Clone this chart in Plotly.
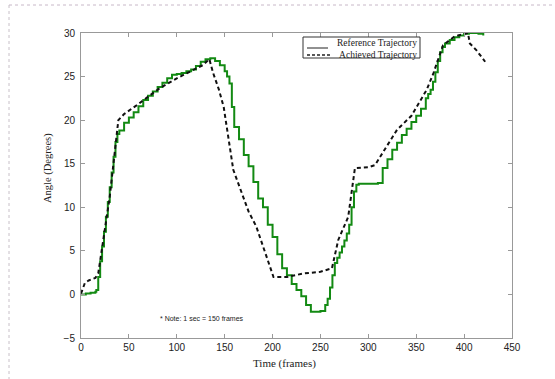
import plotly.graph_objects as go

# Reference trajectory (green, stepped)
ref_frames = [0, 5, 10, 15, 16, 18, 20, 22, 24, 26, 28, 30, 32, 34, 36, 38, 40,
              45, 50, 55, 60, 65, 70, 75, 80, 85, 90, 95, 100, 105, 110, 115,
              120, 125, 130, 135, 140, 145, 150, 152.5, 155, 157.5, 160, 165,
              170, 175, 180, 185, 190, 195, 200, 205, 210, 215, 220, 225, 230,
              235, 240, 245, 250, 255, 257.5, 260, 262.5, 265, 267.5, 270,
              272.5, 275, 277.5, 280, 282.5, 285, 287.5, 290, 295, 300, 305,
              310, 315, 320, 325, 330, 335, 340, 345, 350, 355, 360, 362.5,
              365, 367.5, 370, 372.5, 375, 377.5, 380, 385, 390, 395, 400,
              405, 410, 415, 420]
ref_angle = [0.0, 0.1, 0.2, 0.3, 0.5, 2.0, 3.8, 5.5, 7.2, 8.9, 10.6, 12.3, 14.0,
             15.8, 17.5, 18.4, 18.8,
             19.7, 20.3, 20.9, 21.6, 22.3, 22.8, 23.3, 23.8, 24.3, 24.8, 25.2,
             25.3, 25.4, 25.6, 25.8, 26.2, 26.7, 27.0, 27.1, 26.8, 26.3, 25.6,
             25.0, 24.2, 21.5, 19.2, 17.8, 16.0, 14.7, 12.9, 11.0, 10.0, 8.0,
             6.6, 4.6, 3.0, 2.2, 1.2, 0.5, -0.2, -1.2, -2.0, -2.0, -1.9, -1.2,
             -0.5, 0.8, 2.2, 3.6, 4.2, 4.8, 5.5, 6.2, 7.0, 8.0, 10.0, 11.8,
             12.6, 12.7, 12.7, 12.7, 12.7, 12.8, 14.5, 15.5, 16.6, 17.4, 18.3,
             19.0, 19.8, 20.5, 21.3, 22.5, 23.0, 23.5, 24.4, 25.5, 26.8, 27.8,
             28.4, 28.8, 29.2, 29.5, 29.7, 29.9, 30.0, 30.0, 29.9, 29.7]

# Achieved trajectory (black, dashed)
ach_frames = [0, 4, 8, 15, 18, 23, 30, 39, 45, 58, 70, 82.5, 100, 117, 127, 134,
              138, 144, 149, 159, 168, 175, 183, 190, 201, 215, 232, 250, 262,
              268.6, 279, 286, 300, 307, 319, 330, 345, 361, 368, 378, 390, 404,
              406, 413, 422]
ach_angle = [0.1, 1.3, 1.6, 1.9, 2.4, 5.9, 11.2, 20.0, 20.7, 21.7, 22.7, 23.7,
             24.8, 25.75, 26.3, 27.0, 25.4, 23.5, 21.5, 14.3, 11.6, 9.5, 7.8,
             5.6, 2.0, 2.0, 2.4, 2.6, 3.0, 6.25, 8.9, 14.5, 14.6, 14.85, 16.95,
             18.9, 20.5, 23.5, 25.4, 28.6, 29.6, 30.0, 28.8, 28.0, 26.7]

x_ticks = [0, 50, 100, 150, 200, 250, 300, 350, 400, 450]
y_ticks = [-5, 0, 5, 10, 15, 20, 25, 30]

fig = go.Figure()
fig.add_trace(go.Scatter(x=ref_frames, y=ref_angle, mode="lines",
                         line=dict(color="#138a13", width=2, shape="hv"),
                         name="Reference Trajectory", showlegend=False))
fig.add_trace(go.Scatter(x=ach_frames, y=ach_angle, mode="lines",
                         line=dict(color="#111111", width=2, dash="4px,3px"),
                         name="Achieved Trajectory", showlegend=False))

axis_common = dict(showgrid=False, zeroline=False, showline=True, mirror="ticks",
                   linecolor="#999999", linewidth=1, ticks="inside", ticklen=4,
                   tickcolor="#999999",
                   tickfont=dict(family="Liberation Sans", size=10, color="#222222"))
fig.update_xaxes(range=[0, 450], tickvals=x_ticks, **axis_common)
fig.update_yaxes(range=[-5, 30], tickvals=y_ticks, ticklabelstandoff=3, **axis_common)

W, H = 555, 379
L, R, T, B = 81, 43, 33, 41
pw, ph = W - L - R, H - T - B

def px(x):
    return (x - L) / pw

def py(y):
    return (H - B - y) / ph

shapes = []
# outer dotted frame
shapes.append(dict(type="line", xref="paper", yref="paper", x0=px(9), x1=px(560),
                   y0=py(5), y1=py(5), line=dict(color="#c8b8c8", width=1, dash="dot")))
shapes.append(dict(type="line", xref="paper", yref="paper", x0=px(9), x1=px(9),
                   y0=py(5), y1=py(385), line=dict(color="#c8c0c8", width=1, dash="dot")))
# legend box
shapes.append(dict(type="rect", xref="paper", yref="paper", x0=px(303), x1=px(420),
                   y0=py(58), y1=py(37), line=dict(color="#333333", width=1),
                   fillcolor="white"))
shapes.append(dict(type="line", xref="paper", yref="paper", x0=px(307), x1=px(328),
                   y0=py(48), y1=py(48), line=dict(color="#222222", width=1)))
shapes.append(dict(type="line", xref="paper", yref="paper", x0=px(307), x1=px(330),
                   y0=py(55), y1=py(55), line=dict(color="#222222", width=1.5, dash="3px,2px")))

annotations = [
    dict(text="Reference Trajectory<br>Achieved Trajectory", xref="paper", yref="paper",
         x=px(418), y=py(48.5), xanchor="right", yanchor="middle", align="right",
         showarrow=False, borderpad=0,
         font=dict(family="Liberation Serif", size=9.5, color="#222222")),
    dict(text="Angle (Degrees)", xref="paper", yref="paper", x=px(48), y=py(168),
         xanchor="center", yanchor="middle", textangle=-90, showarrow=False,
         font=dict(family="Liberation Serif", size=10.5, color="#222222")),
    dict(text="Time (frames)", xref="paper", yref="paper", x=px(284), y=py(363),
         xanchor="center", yanchor="middle", showarrow=False,
         font=dict(family="Liberation Serif", size=11, color="#222222")),
    dict(text="* Note: 1 sec = 150 frames", xref="paper", yref="paper", x=px(158), y=py(318),
         xanchor="left", yanchor="middle", showarrow=False,
         font=dict(family="Liberation Sans", size=7, color="#222222")),
]

fig.update_layout(width=W, height=H, margin=dict(l=L, r=R, t=T, b=B),
                  paper_bgcolor="white", plot_bgcolor="white",
                  shapes=shapes, annotations=annotations, showlegend=False)

fig.write_html("out.html")
